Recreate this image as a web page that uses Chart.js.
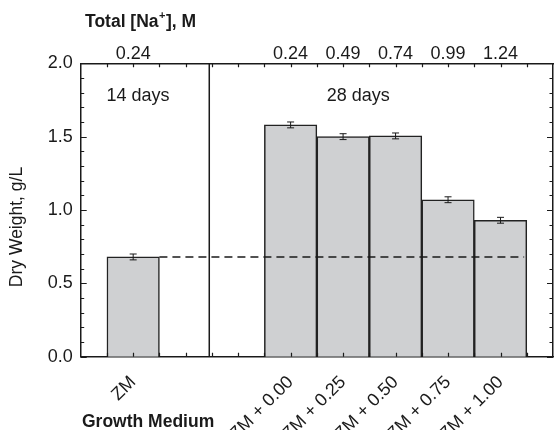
<!DOCTYPE html>
<html>
<head>
<meta charset="utf-8">
<script src="https://cdn.jsdelivr.net/npm/chart.js@4.4.1/dist/chart.umd.min.js"></script>
<style>
  html, body { margin: 0; padding: 0; background: #ffffff; }
  #wrap { width: 554px; height: 430px; position: relative; }
</style>
</head>
<body>
<div id="wrap"><canvas id="c"></canvas></div>
<script>
// ---- data ----
const categories = ['ZM', 'ZM + 0.00', 'ZM + 0.25', 'ZM + 0.50', 'ZM + 0.75', 'ZM + 1.00'];
const positions = [0, 3, 4, 5, 6, 7];
const dryWeight = [0.68, 1.58, 1.50, 1.505, 1.07, 0.93];
const dryWeightErr = [0.02, 0.02, 0.02, 0.02, 0.02, 0.02];
const naLabels = ['0.24', '0.24', '0.49', '0.74', '0.99', '1.24'];
const periodLabels = ['14 days', '28 days'];
const periodX = [0.09, 4.29];
const periodY = [1.78, 1.78];
const controlLevel = 0.68;
const controlSpan = [0.5, 7.45];
const dividerX = 1.45;
const xRange = [-1, 8];
const yRange = [0, 2];
const yStep = 0.5;

const FONT = '"Liberation Sans", Arial, Helvetica, sans-serif';
const INK = '#1a1a1a';

const extras = {
  id: 'extras',
  afterDatasetsDraw(chart) {
    const ctx = chart.ctx;
    const xs = chart.scales.x, ys = chart.scales.y;
    const a = chart.chartArea;
    ctx.save();
    // error bars
    ctx.strokeStyle = INK;
    ctx.lineWidth = 1;
    positions.forEach((p, i) => {
      const px = xs.getPixelForValue(p);
      const y1 = ys.getPixelForValue(dryWeight[i] - dryWeightErr[i]);
      const y2 = ys.getPixelForValue(dryWeight[i] + dryWeightErr[i]);
      ctx.beginPath();
      ctx.moveTo(px, y1); ctx.lineTo(px, y2);
      ctx.moveTo(px - 3.5, y1); ctx.lineTo(px + 3.5, y1);
      ctx.moveTo(px - 3.5, y2); ctx.lineTo(px + 3.5, y2);
      ctx.stroke();
    });
    // inward tick marks
    ctx.lineWidth = 1.2;
    ctx.beginPath();
    for (let i = 0; i <= 20; i++) {
      const v = i / 10;
      const py = Math.round(ys.getPixelForValue(v)) + 0.5;
      const len = (i % 5 === 0) ? 6 : 3.5;
      ctx.moveTo(a.left, py); ctx.lineTo(a.left + len, py);
      ctx.moveTo(a.right, py); ctx.lineTo(a.right - len, py);
    }
    for (let i = -1; i <= 15; i++) {
      const v = i / 2;
      const px = Math.round(xs.getPixelForValue(v)) + 0.5;
      ctx.moveTo(px, a.top); ctx.lineTo(px, a.top + 4);
      ctx.moveTo(px, a.bottom); ctx.lineTo(px, a.bottom - 4);
    }
    ctx.stroke();
    // period annotations
    ctx.fillStyle = INK;
    ctx.font = '18px ' + FONT;
    ctx.textAlign = 'center';
    ctx.textBaseline = 'middle';
    periodLabels.forEach((t, i) => {
      ctx.fillText(t, xs.getPixelForValue(periodX[i]), ys.getPixelForValue(periodY[i]));
    });
    // y title
    ctx.save();
    ctx.font = '17.5px ' + FONT;
    ctx.translate(17.5, 227);
    ctx.rotate(-Math.PI / 2);
    ctx.fillText('Dry Weight, g/L', 0, 0);
    ctx.restore();
    // top title with superscript
    ctx.textAlign = 'left';
    ctx.textBaseline = 'alphabetic';
    ctx.font = 'bold 17.5px ' + FONT;
    let x = 85;
    const base = 27.3;
    ctx.fillText('Total [Na', x, base);
    x += ctx.measureText('Total [Na').width + 0.5;
    ctx.font = 'bold 11px ' + FONT;
    ctx.fillText('+', x, base - 8.5);
    x += ctx.measureText('+').width + 0.5;
    ctx.font = 'bold 17.5px ' + FONT;
    ctx.fillText('], M', x, base);
    // bottom title
    ctx.fillText('Growth Medium', 82, 427);
    ctx.restore();
  }
};

const tickFont = { family: FONT, size: 18 };

new Chart(document.getElementById('c'), {
  type: 'bar',
  data: {
    datasets: [
      {
        type: 'line',
        data: [{ x: controlSpan[0], y: controlLevel }, { x: controlSpan[1], y: controlLevel }],
        borderColor: INK, borderWidth: 1.4, borderDash: [8, 5],
        pointRadius: 0, fill: false, order: 0, xAxisID: 'x', yAxisID: 'y'
      },
      {
        type: 'line',
        data: [{ x: dividerX, y: yRange[0] }, { x: dividerX, y: yRange[1] }],
        borderColor: INK, borderWidth: 1.5,
        pointRadius: 0, fill: false, order: 0, xAxisID: 'x', yAxisID: 'y'
      },
      {
        type: 'bar',
        data: positions.map((p, i) => ({ x: p, y: dryWeight[i] })),
        backgroundColor: '#cfd0d2',
        borderColor: '#222222',
        borderWidth: 1.5,
        barPercentage: 1.0,
        categoryPercentage: 1.0,
        order: 1, xAxisID: 'x', yAxisID: 'y'
      }
    ]
  },
  options: {
    responsive: true,
    maintainAspectRatio: false,
    animation: false,
    layout: { padding: 0 },
    plugins: { legend: { display: false }, tooltip: { enabled: false } },
    scales: {
      x: {
        type: 'linear', position: 'bottom', min: xRange[0], max: xRange[1], offset: false,
        afterBuildTicks: s => { s.ticks = positions.map(v => ({ value: v })); },
        afterFit: s => { s.height = 73.3; },
        grid: { display: false, drawTicks: false, offset: false },
        border: { display: true, color: INK, width: 1.5 },
        ticks: {
          autoSkip: false, minRotation: 45, maxRotation: 45, padding: 15,
          font: tickFont, color: INK,
          callback: (v, i) => categories[i]
        }
      },
      x2: {
        type: 'linear', position: 'top', min: xRange[0], max: xRange[1], display: true, offset: false,
        afterBuildTicks: s => { s.ticks = positions.map(v => ({ value: v })); },
        afterFit: s => { s.height = 63.3; },
        grid: { display: false, drawTicks: false, offset: false },
        border: { display: true, color: INK, width: 1.5 },
        ticks: {
          autoSkip: false, maxRotation: 0, padding: -1.5,
          font: tickFont, color: INK,
          callback: (v, i) => naLabels[i]
        }
      },
      y: {
        type: 'linear', position: 'left', min: yRange[0], max: yRange[1],
        afterFit: s => { s.width = 80.7; },
        grid: { display: false, drawTicks: false },
        border: { display: true, color: INK, width: 1.5 },
        ticks: {
          stepSize: yStep, padding: 8, font: tickFont, color: INK,
          callback: v => v.toFixed(1)
        }
      },
      y2: {
        type: 'linear', position: 'right', min: yRange[0], max: yRange[1], display: true,
        afterFit: s => { s.width = 1; },
        grid: { display: false, drawTicks: false },
        border: { display: true, color: INK, width: 1.5 },
        ticks: { display: false, stepSize: yStep }
      }
    }
  },
  plugins: [extras]
});
</script>
</body>
</html>
